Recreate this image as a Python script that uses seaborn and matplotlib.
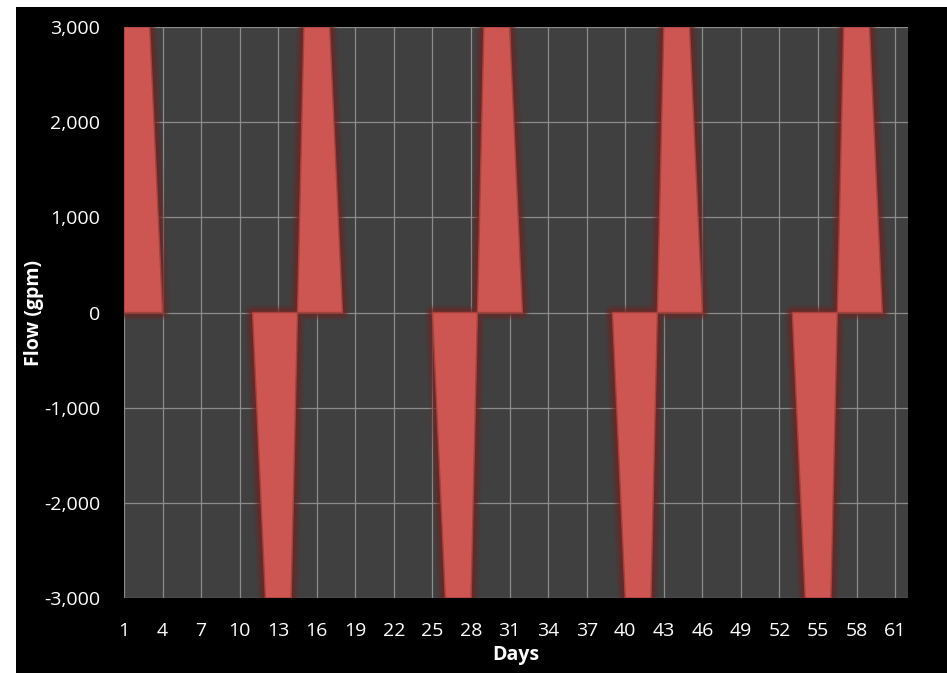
import numpy as np
import pandas as pd
import matplotlib
matplotlib.use("Agg")
import matplotlib.pyplot as plt
from matplotlib.patches import Rectangle
import seaborn as sns

# Daily flow schedule (gpm): positive = injection, negative = withdrawal
days = list(range(1, 63))
flow_gpm = [
    3000, 3000, 3000, 0, 0, 0, 0, 0, 0, 0, 0,
    -3000, -3000, -3000, 3000, 3000, 3000, 0, 0, 0, 0, 0, 0, 0, 0,
    -3000, -3000, -3000, 3000, 3000, 3000, 0, 0, 0, 0, 0, 0, 0, 0,
    -3000, -3000, -3000, 3000, 3000, 3000, 0, 0, 0, 0, 0, 0, 0, 0,
    -3000, -3000, -3000, 3000, 3000, 3000, 0, 0, 0,
]
x_ticks = [1, 4, 7, 10, 13, 16, 19, 22, 25, 28, 31, 34, 37, 40, 43, 46, 49, 52, 55, 58, 61]
y_ticks = [-3000, -2000, -1000, 0, 1000, 2000, 3000]

df = pd.DataFrame({"Day": days, "Flow": flow_gpm})

sns.set_theme(style="darkgrid", rc={
    "axes.facecolor": "#404040",
    "grid.color": "#8c8c8c",
    "grid.linewidth": 0.9,
    "axes.edgecolor": "#404040",
})
plt.rcParams["font.family"] = ["Open Sans", "DejaVu Sans"]

fig = plt.figure(figsize=(9.47, 6.73), dpi=100, facecolor="white")
# black panel behind the chart
fig.patches.append(Rectangle((16 / 947, 0), 1 - 16 / 947, 666 / 673,
                             transform=fig.transFigure, facecolor="black",
                             edgecolor="none", zorder=-10))
ax = fig.add_axes([124 / 947, 1 - 598 / 673, 784 / 947, 571 / 673])

flow = df["Flow"].to_numpy()
nonzero = flow != 0
active = nonzero | np.r_[nonzero[1:], False] | np.r_[False, nonzero[:-1]]

# soft reddish glow around the pulses, built from several translucent strokes
for lw, a in [(11, 0.18), (8, 0.3), (5, 0.45)]:
    ax.fill_between(df["Day"], df["Flow"], 0, where=active, facecolor="none",
                    edgecolor="#6e2422", linewidth=lw, alpha=a, zorder=2)
ax.fill_between(df["Day"], df["Flow"], 0, where=active, facecolor="#CD5552",
                edgecolor="#A8403C", linewidth=1.0, zorder=3)
sns.lineplot(data=df, x="Day", y="Flow", ax=ax, color="#CD5552",
             linewidth=0, zorder=4, legend=False)

ax.set_xlim(1, 62)
ax.set_ylim(-3000, 3000)
ax.set_xticks(x_ticks)
ax.set_xticklabels([str(t) for t in x_ticks])
ax.set_yticks(y_ticks)
ax.set_yticklabels([f"{t:,}" for t in y_ticks])
ax.tick_params(axis="both", length=0, colors="white", labelsize=14)
ax.tick_params(axis="x", pad=17)
ax.tick_params(axis="y", pad=17)
ax.grid(True, axis="both")
for s in ax.spines.values():
    s.set_visible(False)

ax.set_xlabel("Days", color="white", fontsize=14, fontweight="bold", labelpad=4)
ax.set_ylabel("Flow (gpm)", color="white", fontsize=14, fontweight="bold")
ax.yaxis.set_label_coords(-0.102, 0.5)

fig.savefig("out.png", dpi=100, facecolor=fig.get_facecolor())
